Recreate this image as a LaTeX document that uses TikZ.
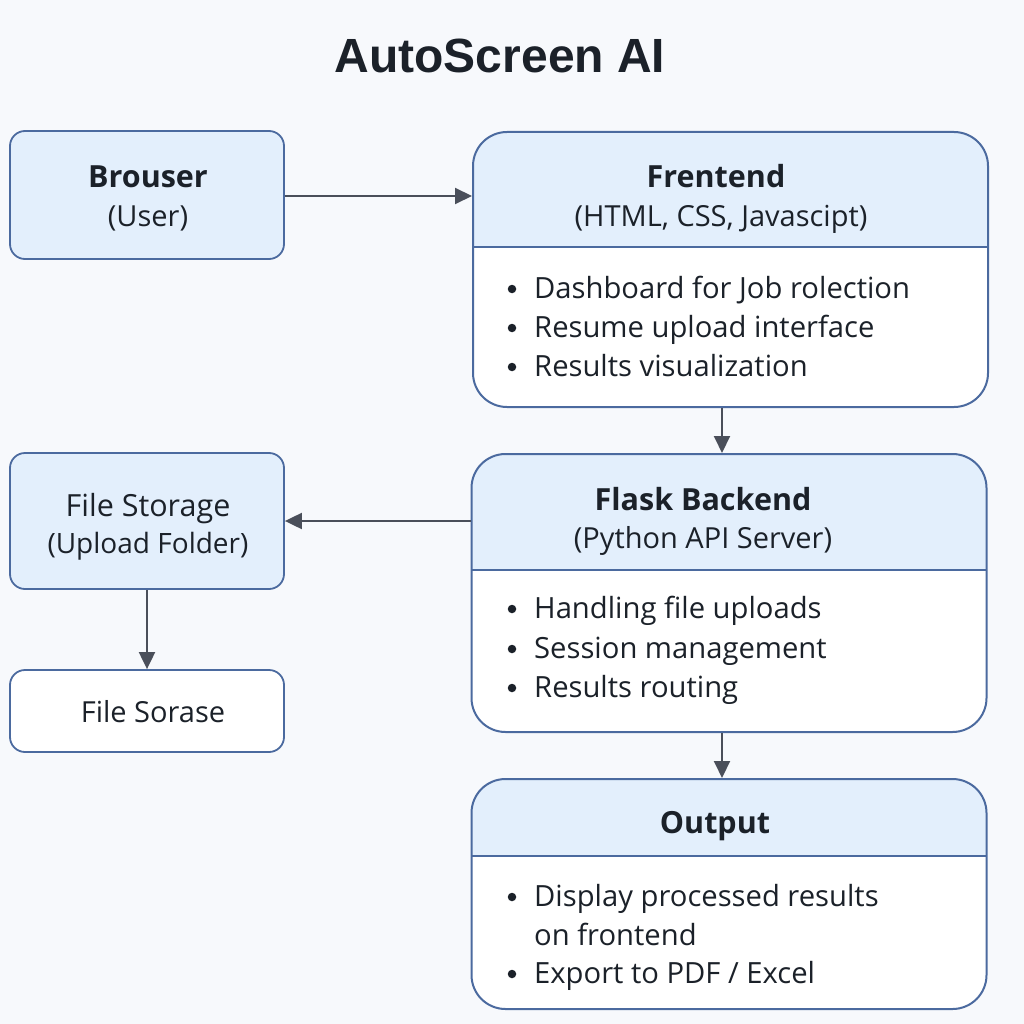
\documentclass[tikz,border=0pt]{standalone}
\usepackage{fontspec}
\setmainfont{Open Sans}
\newfontfamily\titlefont{Liberation Sans}
\usetikzlibrary{arrows.meta}
\definecolor{bgcol}{HTML}{F7F9FC}
\definecolor{hdrfill}{HTML}{E3EFFC}
\definecolor{bordercol}{HTML}{4B6A9F}
\definecolor{arrowcol}{HTML}{4A4F5A}
\definecolor{textcol}{HTML}{1B2129}
\tikzset{
  smallbox/.style={draw=bordercol, line width=1.8pt, fill=hdrfill, rounded corners=15pt, inner sep=0pt, minimum width=274pt},
  whitebox/.style={draw=bordercol, line width=1.8pt, fill=white, rounded corners=15pt, inner sep=0pt, minimum width=274pt},
  bigbox/.style={draw=bordercol, line width=2pt, fill=white, rounded corners=34pt, inner sep=0pt, minimum width=515pt},
  hdr/.style={path picture={
     \fill[hdrfill, sharp corners] (path picture bounding box.north west) rectangle ([yshift=-#1]path picture bounding box.north east);
     \draw[bordercol, line width=1.6pt, sharp corners] ([yshift=-#1]path picture bounding box.north west) -- ([yshift=-#1]path picture bounding box.north east);}},
  conn/.style={draw=arrowcol, line width=2pt, -{Triangle[length=17pt,width=16pt]}},
  ttl/.style={text=textcol, font=\fontsize{30.5}{36}\selectfont\bfseries, inner sep=0pt, anchor=base},
  sub/.style={text=textcol, font=\fontsize{29}{34}\selectfont, inner sep=0pt, anchor=base},
  item/.style={text=textcol, font=\fontsize{29.2}{34}\selectfont, inner sep=0pt, anchor=base west},
  bul/.style={circle, fill=textcol, inner sep=0pt, minimum size=8.5pt},
}
\begin{document}
\begin{tikzpicture}[x=1pt,y=-1pt]
\useasboundingbox[fill=bgcol] (0,0) rectangle (1024,1024);

\node[text=textcol, font=\fontsize{48}{56}\selectfont\titlefont\bfseries, inner sep=0pt, anchor=base] (title) at (500,73) {AutoScreen AI};

% Brouser
\node[smallbox, minimum height=128pt] (br) at (147,195) {};
\node[ttl] (brt) at (148,188) {Brouser};
\node[sub] (brs) at (148,226) {(User)};

% Frentend
\node[bigbox, minimum height=275pt, hdr=115pt] (fe) at (730.5,269.5) {};
\node[ttl] (fet) at (716,188) {Frentend};
\node[sub] (fes) at (721,226) {(HTML, CSS, Javascipt)};
\node[bul] (feb1) at (512,289) {}; \node[item] (fei1) at (534,298) {Dashboard for Job rolection};
\node[bul] (feb2) at (512,328) {}; \node[item] (fei2) at (534,337) {Resume upload interface};
\node[bul] (feb3) at (512,367) {}; \node[item] (fei3) at (534,376) {Results visualization};

% File Storage
\node[smallbox, minimum height=136pt] (fs) at (147,521) {};
\node[sub, font=\fontsize{30.5}{36}\selectfont] (fst) at (148,516) {File Storage};
\node[sub, font=\fontsize{28}{34}\selectfont] (fss) at (148,553) {(Upload Folder)};

% File Sorase
\node[whitebox, minimum height=82pt] (fso) at (147,711) {};
\node[sub] (fsot) at (153,722) {File Sorase};

% Flask
\node[bigbox, minimum height=278pt, hdr=116pt] (fl) at (729,593) {};
\node[ttl] (flt) at (703,510) {Flask Backend};
\node[sub] (fls) at (703,548) {(Python API Server)};
\node[bul] (flb1) at (512,609) {}; \node[item] (fli1) at (534,618) {Handling file uploads};
\node[bul] (flb2) at (512,649) {}; \node[item] (fli2) at (534,658) {Session management};
\node[bul] (flb3) at (512,688) {}; \node[item] (fli3) at (534,697) {Results routing};

% Output
\node[bigbox, minimum height=230pt, hdr=77pt] (out) at (729,894) {};
\node[ttl] (outt) at (715,833) {Output};
\node[bul] (ob1) at (512,897) {}; \node[item] (oi1) at (534,906) {Display processed results};
\node[item] (oi1b) at (534,945) {on frontend};
\node[bul] (ob2) at (512,974) {}; \node[item] (oi2) at (534,983) {Export to PDF / Excel};

% connectors
\draw[conn] (br.east |- 0,196) -- (fe.west |- 0,196);
\draw[conn] (fe.south -| 722,0) -- (fl.north -| 722,0);
\draw[conn] (fl.west |- 0,521) -- (fs.east |- 0,521);
\draw[conn] (fs.south) -- (fso.north);
\draw[conn] (fl.south -| 722,0) -- (out.north -| 722,0);
\end{tikzpicture}
\end{document}
